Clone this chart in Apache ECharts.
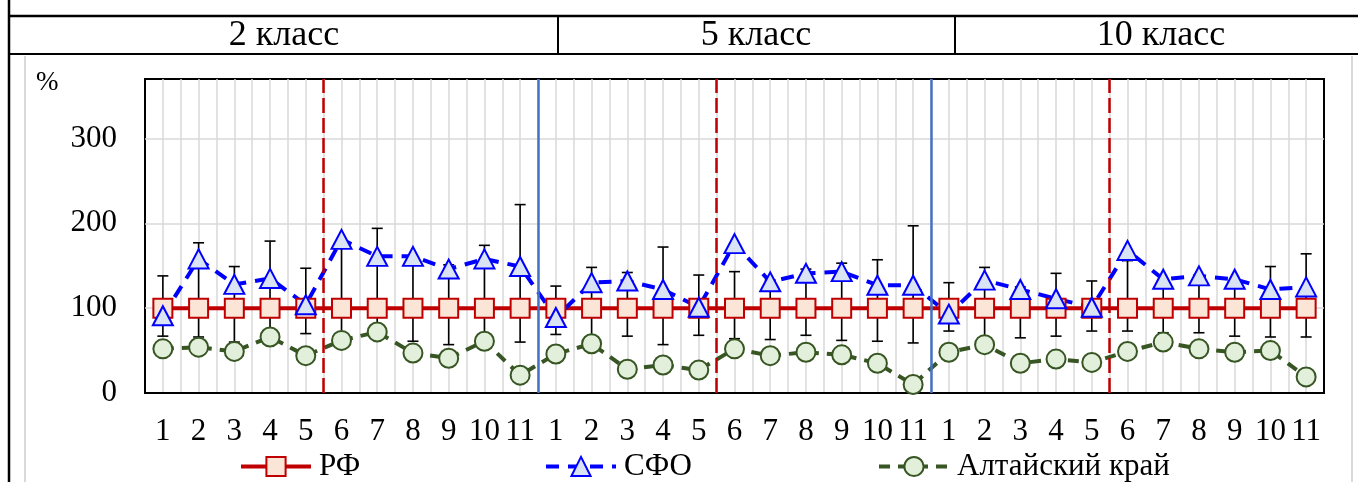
<!DOCTYPE html>
<html>
<head>
<meta charset="utf-8">
<script src="https://cdn.jsdelivr.net/npm/echarts@6/dist/echarts.min.js"></script>
<style>
html,body{margin:0;padding:0;background:#fff;}
#chart{width:1358px;height:482px;}
</style>
</head>
<body>
<div id="chart"></div>
<script>
// ---- data ----
var groupTitles = ['2 класс', '5 класс', '10 класс'];
var categories = ['1','2','3','4','5','6','7','8','9','10','11',
                  '1','2','3','4','5','6','7','8','9','10','11',
                  '1','2','3','4','5','6','7','8','9','10','11'];
var seriesNames = ['РФ', 'СФО', 'Алтайский край'];
var rfValues = [100,100,100,100,100,100,100,100,100,100,100,
                100,100,100,100,100,100,100,100,100,100,100,
                100,100,100,100,100,100,100,100,100,100,100];
var sfoValues = [91,158,128,135,104,181,161,161,146,158,149,
                 89,130,132,122,101,176,131,141,143,127,127,
                 93,133,122,111,101,168,134,138,134,122,125];
var altaiValues = [52,54,49,66,44,62,72,47,41,61,21,
                   46,58,28,33,27,52,44,48,45,35,10,
                   48,57,35,40,36,49,60,52,48,50,19];
var errLow = [67,66,60,66,70,64,74,61,57,62,60,
              69,62,67,57,68,64,63,68,62,61,59,
              73,60,65,67,73,73,71,71,67,66,66];
var errHigh = [138,177,149,179,147,176,194,160,151,174,222,
               126,148,142,172,139,143,133,146,153,157,197,
               130,148,125,141,132,156,133,137,133,149,164];
var yTicks = [0, 100, 200, 300];
var redDividers = [5, 16, 27];   // boundaries between 5 and 6 in each class
var blueDividers = [11, 22];     // boundaries between classes

var FONT = 'Liberation Serif';
var chart = echarts.init(document.getElementById('chart'), null, {renderer:'canvas'});

var errData = categories.map(function(c, i){ return [i, errLow[i], errHigh[i]]; });

var gridL = 145, gridT = 79, gridR = 34, gridB = 89;

function legendFor(name, left){
  return {
    data:[name], left:left, top:451, padding:0, itemWidth:70, itemHeight:24,
    lineStyle:{width:4},
    textStyle:{fontFamily:FONT, fontSize:31, color:'#000', padding:[0,0,0,3]},
    selectedMode:false
  };
}

var option = {
  animation:false,
  backgroundColor:'#fff',
  grid:{left:gridL, top:gridT, right:gridR, bottom:gridB, show:true, borderColor:'#000', borderWidth:2, backgroundColor:'transparent', containLabel:false},
  legend:[legendFor(seriesNames[0], 239), legendFor(seriesNames[1], 544), legendFor(seriesNames[2], 877)],
  xAxis:[
    {type:'category', data:categories, boundaryGap:true,
     axisLine:{show:true, lineStyle:{color:'#000', width:2}},
     axisTick:{show:false},
     axisLabel:{interval:0, margin:23, fontFamily:FONT, fontSize:31, color:'#000'},
     splitLine:{show:false}},
    {type:'value', min:0, max:categories.length, interval:0.5, position:'bottom',
     axisLine:{show:false}, axisTick:{show:false}, axisLabel:{show:false},
     splitLine:{show:true, showMinLine:false, showMaxLine:false, lineStyle:{color:'#d9d9d9', width:1.5}}}
  ],
  yAxis:{type:'value', min:0, max:370, interval:100,
     axisLine:{show:false}, axisTick:{show:false},
     axisLabel:{margin:28, fontFamily:FONT, fontSize:31, color:'#000', showMaxLabel:false,
       formatter:function(v){ return yTicks.indexOf(v) >= 0 ? String(v) : ''; }},
     splitLine:{show:true, showMinLine:false, showMaxLine:false, lineStyle:{color:'#d9d9d9', width:1.5}}},
  series:[
    {type:'line', name:'dividers', xAxisIndex:1, data:[[0,null]], showSymbol:false, silent:true,
     markLine:{silent:true, symbol:'none', label:{show:false},
       data: redDividers.map(function(v){ return {xAxis:v, lineStyle:{color:'#c00000', width:2.5, type:[15,5]}}; })
         .concat(blueDividers.map(function(v){ return {xAxis:v, lineStyle:{color:'#4472c4', width:2.5, type:'solid'}}; }))
     }},
    {type:'custom', name:'err', data:errData, silent:true,
     encode:{x:0, y:[1,2]},
     renderItem:function(params, api){
       var x = api.value(0), lo = api.value(1), hi = api.value(2);
       var pLo = api.coord([x, lo]), pHi = api.coord([x, hi]);
       var w = 5.5;
       var st = {stroke:'#000', lineWidth:1.6};
       return {type:'group', children:[
         {type:'line', shape:{x1:pLo[0], y1:pLo[1], x2:pHi[0], y2:pHi[1]}, style:st},
         {type:'line', shape:{x1:pLo[0]-w, y1:pLo[1], x2:pLo[0]+w, y2:pLo[1]}, style:st},
         {type:'line', shape:{x1:pHi[0]-w, y1:pHi[1], x2:pHi[0]+w, y2:pHi[1]}, style:st}
       ]};
     }},
    {type:'line', name:seriesNames[0], data:rfValues, symbol:'rect', symbolSize:19,
     lineStyle:{color:'#c00000', width:4},
     itemStyle:{color:'#fbe5d6', borderColor:'#c00000', borderWidth:2}},
    {type:'line', name:seriesNames[1], data:sfoValues, symbol:'triangle', symbolSize:[20,19],
     lineStyle:{color:'#0000ff', width:4, type:[13,9]},
     itemStyle:{color:'#dae3f3', borderColor:'#0000ff', borderWidth:2}},
    {type:'line', name:seriesNames[2], data:altaiValues, symbol:'circle', symbolSize:19,
     lineStyle:{color:'#375623', width:4, type:[11,8]},
     itemStyle:{color:'#e2efda', borderColor:'#375623', borderWidth:2}}
  ],
  graphic:[
    // chart-area light border
    {type:'line', shape:{x1:25, y1:56, x2:25, y2:482}, style:{stroke:'#d9d9d9', lineWidth:2}},
    {type:'line', shape:{x1:1352, y1:56, x2:1352, y2:482}, style:{stroke:'#d9d9d9', lineWidth:2}},
    // table frame
    {type:'line', shape:{x1:9, y1:0, x2:9, y2:482}, style:{stroke:'#000', lineWidth:2.5}},
    {type:'line', shape:{x1:9, y1:16, x2:1358, y2:16}, style:{stroke:'#000', lineWidth:2.5}},
    {type:'line', shape:{x1:9, y1:54, x2:1358, y2:54}, style:{stroke:'#000', lineWidth:2}},
    {type:'line', shape:{x1:558, y1:16, x2:558, y2:54}, style:{stroke:'#000', lineWidth:2}},
    {type:'line', shape:{x1:955, y1:16, x2:955, y2:54}, style:{stroke:'#000', lineWidth:2}},
    {type:'text', x:284, y:36, style:{text:groupTitles[0], font:'36px "Liberation Serif"', fill:'#000', textAlign:'center', textVerticalAlign:'middle'}},
    {type:'text', x:756, y:36, style:{text:groupTitles[1], font:'36px "Liberation Serif"', fill:'#000', textAlign:'center', textVerticalAlign:'middle'}},
    {type:'text', x:1161, y:36, style:{text:groupTitles[2], font:'36px "Liberation Serif"', fill:'#000', textAlign:'center', textVerticalAlign:'middle'}},
    {type:'text', x:36, y:83, style:{text:'%', font:'27px "Liberation Serif"', fill:'#000', textAlign:'left', textVerticalAlign:'middle'}}
  ]
};
chart.setOption(option);
</script>
</body>
</html>
